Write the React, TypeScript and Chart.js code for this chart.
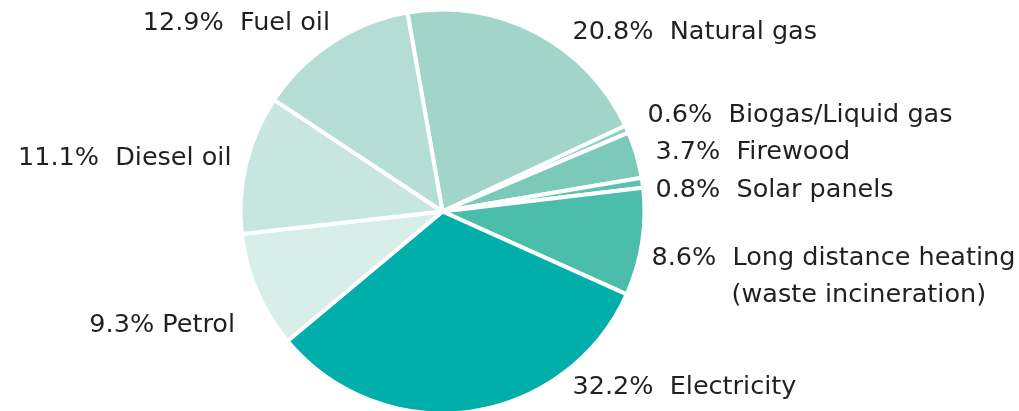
import React, { useEffect, useRef } from "react";
import { Chart, registerables } from "chart.js";

Chart.register(...registerables);

// ---- Data ----
const categories = [
  "Natural gas",
  "Biogas/Liquid gas",
  "Firewood",
  "Solar panels",
  "Long distance heating",
  "Electricity",
  "Petrol",
  "Diesel oil",
  "Fuel oil",
];
const secondLines = ["", "", "", "", "(waste incineration)", "", "", "", ""];
const shares = [20.8, 0.6, 3.7, 0.8, 8.6, 32.2, 9.3, 11.1, 12.9];
const sliceColors = [
  "#a2d5ca",
  "#8fcfc0",
  "#7bc9b8",
  "#5fc2b0",
  "#4bbdab",
  "#00aeaa",
  "#d7eee9",
  "#c6e6df",
  "#b4ded5",
];

// label placement relative to pie centre: [x, baseline y, align, gap]
const labelPlacement: Array<[number, number, CanvasTextAlign, string]> = [
  [130, -173, "left", "  "],
  [205, -90, "left", "  "],
  [213, -53, "left", "  "],
  [213, -15, "left", "  "],
  [209, 53.5, "left", "  "],
  [130, 182, "left", "  "],
  [-207.5, 120, "right", " "],
  [-211, -47, "right", "  "],
  [-112.5, -181.5, "right", "  "],
];
const secondLineOffset: [number, number] = [80, 37];

const labelPlugin = {
  id: "outsideLabels",
  afterDraw(chart: any) {
    const meta = chart.getDatasetMeta(0);
    const arc = meta.data[0];
    if (!arc) return;
    const cx = arc.x;
    const cy = arc.y;
    const ctx = chart.ctx;
    ctx.save();
    ctx.font = '25.5px "DejaVu Sans"';
    ctx.fillStyle = "#231f20";
    ctx.textBaseline = "alphabetic";
    categories.forEach((name, i) => {
      const [dx, dy, align, gap] = labelPlacement[i];
      ctx.textAlign = align;
      const text = `${shares[i].toFixed(1)}%${gap}${name}`;
      ctx.fillText(text, cx + dx, cy + dy);
      if (secondLines[i]) {
        ctx.textAlign = "left";
        ctx.fillText(
          secondLines[i],
          cx + dx + secondLineOffset[0],
          cy + dy + secondLineOffset[1]
        );
      }
    });
    ctx.restore();
  },
};

export default function App() {
  const ref = useRef<HTMLCanvasElement | null>(null);
  useEffect(() => {
    if (!ref.current) return;
    const chart = new Chart(ref.current, {
      type: "pie",
      data: {
        labels: categories,
        datasets: [
          {
            data: shares,
            backgroundColor: sliceColors,
            borderColor: "#ffffff",
            borderWidth: 4,
          },
        ],
      },
      options: {
        responsive: false,
        animation: false,
        rotation: -10,
        radius: 202,
        layout: { padding: { left: 242, right: 376, top: 12, bottom: 0 } },
        plugins: {
          legend: { display: false },
          tooltip: { enabled: false },
        },
      },
      plugins: [labelPlugin],
    });
    return () => chart.destroy();
  }, []);
  return (
    <div style={{ position: "fixed", left: 0, top: 0, width: 1019, height: 411, background: "#fff" }}>
      <canvas ref={ref} width={1019} height={411} />
    </div>
  );
}
